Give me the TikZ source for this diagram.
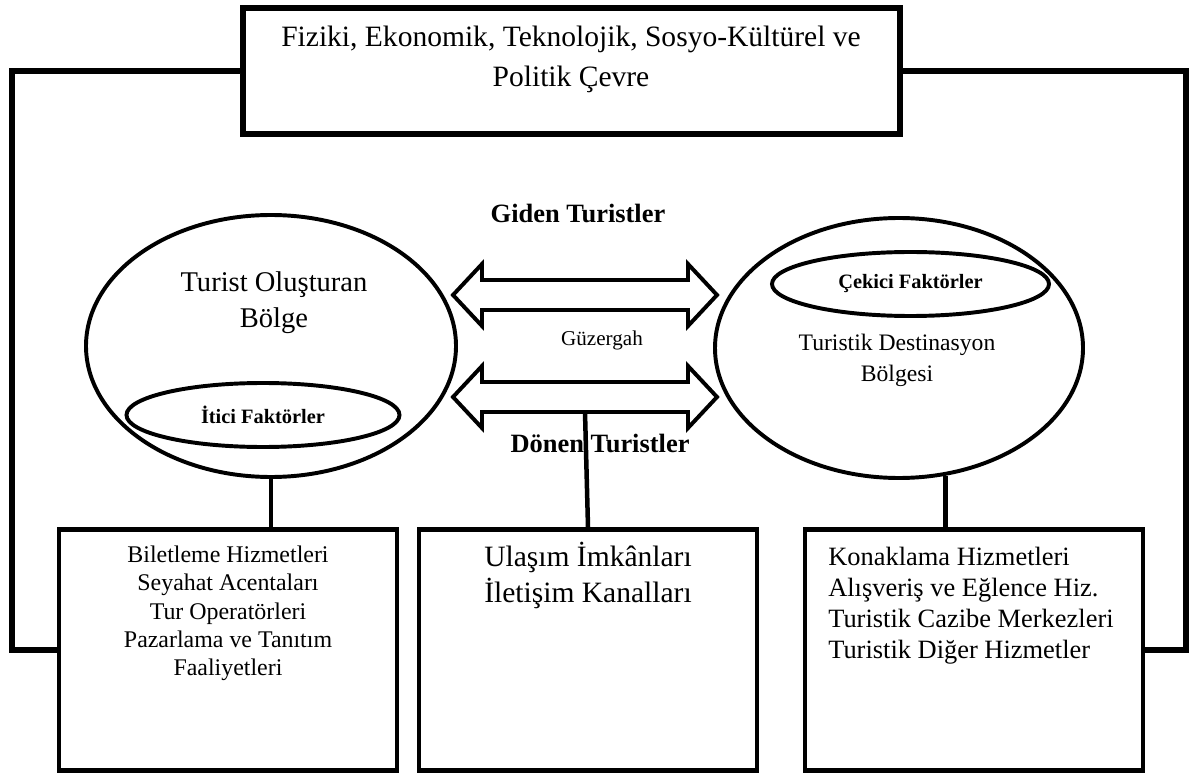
\documentclass[tikz,border=0pt]{standalone}
\usepackage{fontspec}
\setmainfont{Liberation Serif}
\usetikzlibrary{shapes.geometric}
\newlength\pxl
\setlength\pxl{0.025cm}

\begin{document}
\begin{tikzpicture}[x=0.025cm, y=-0.025cm,
    region/.style ={ellipse, draw, line width=2.8pt, minimum width=370\pxl, minimum height=262\pxl, inner sep=0pt},
    factor/.style ={ellipse, draw, line width=2.8pt, minimum height=64\pxl, inner sep=0pt, font=\fontsize{14.5}{17}\selectfont\bfseries},
    service/.style ={rectangle, draw, line width=3.4pt, minimum width=338\pxl, minimum height=241\pxl},
    route/.style ={line width=2.8pt, line join=miter},
    link/.style ={line width=3.2pt},
    frame/.style ={line width=4pt}]
   \useasboundingbox (0,0) rectangle (1190,774);
   \node[rectangle, draw, line width=3.6pt, minimum width=657\pxl, minimum height=126\pxl] (env) at (571.5,71) {};
   \node[font=\fontsize{21}{29}\selectfont, align=center] (envtext) at (571,59.5) {Fiziki, Ekonomik, Teknolojik, Sosyo-Kültürel ve\\Politik Çevre};
   \node[service] (box1) at (228,650) {};
   \node[service] (box2) at (588,650) {};
   \node[service] (box3) at (974,650) {};
   \node[region] (origin) at (271,346) {};
   \node[region, minimum width=368\pxl, minimum height=260\pxl] (dest) at (899,348) {};
   \node[factor, minimum width=273\pxl] (push) at (263,415) {İtici Faktörler};
   \node[factor, minimum width=277\pxl] (pull) at (910.5,284) {Çekici Faktörler};
   \node[font=\fontsize{20.3}{25.6}\selectfont, align=center] (origintext) at (274,303) {Turist Oluşturan\\Bölge};
   \node[font=\fontsize{16.8}{22}\selectfont, align=center] (desttext) at (897,360) {Turistik Destinasyon\\Bölgesi};
   \node[font=\fontsize{18.8}{22}\selectfont\bfseries] (going) at (578,213) {Giden Turistler};
   \node[font=\fontsize{18.8}{22}\selectfont\bfseries] (coming) at (600,443) {Dönen Turistler};
   \node[font=\fontsize{15}{18}\selectfont] (way) at (602,340) {Güzergah};
   \node[font=\fontsize{17}{20}\selectfont, align=center] (box1text) at (228,613.4) {Biletleme Hizmetleri\\Seyahat Acentaları\\Tur Operatörleri\\Pazarlama ve Tanıtım\\Faaliyetleri};
   \node[font=\fontsize{21}{25}\selectfont, align=center] (box2text) at (588,575.5) {Ulaşım İmkânları\\İletişim Kanalları};
   \node[font=\fontsize{18.8}{22}\selectfont, align=left, anchor=west, inner sep=0pt] (box3text) at (828,606) {Konaklama Hizmetleri\\Alışveriş ve Eğlence Hiz.\\Turistik Cazibe Merkezleri\\Turistik Diğer Hizmetler};
   \foreach \y in {295,397}
      \draw[route] (453,\y) -- (482,\y-31) -- (482,\y-15) -- (688,\y-15) -- (688,\y-31) -- (717,\y)
         -- (688,\y+31) -- (688,\y+15) -- (482,\y+15) -- (482,\y+31) -- cycle;
   \coordinate (lanebot) at (585,412);
   \coordinate (lcorner) at (12,0);
   \coordinate (rcorner) at (1186,0);
   \draw[frame, gray!50, yshift=-3.6pt] (env.west) -| (lcorner |- box1.west) -- (box1.west);
   \draw[frame, gray!50, yshift=-3.6pt] (env.east) -| (rcorner |- box3.east) -- (box3.east);
   \draw[frame] (env.west) -| (lcorner |- box1.west) -- (box1.west);
   \draw[frame] (env.east) -| (rcorner |- box3.east) -- (box3.east);
   \draw[link] (origin.south) -- (origin.south |- box1.north);
   \draw[link] (lanebot) -- (box2.north);
   \draw[link] (dest.-70) -- (dest.-70 |- box3.north);
\end{tikzpicture}
\end{document}
